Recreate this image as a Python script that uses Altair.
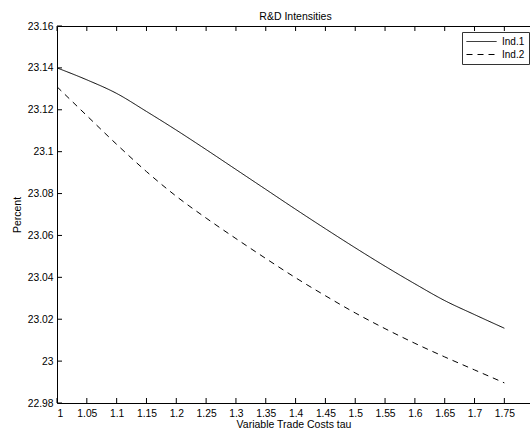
import altair as alt
import pandas as pd

# ---- data ----
tau = [1.00, 1.05, 1.10, 1.15, 1.20, 1.25, 1.30, 1.35, 1.40, 1.45, 1.50, 1.55, 1.60, 1.65, 1.70, 1.75]
ind1 = [23.1400, 23.1343, 23.1278, 23.1192, 23.1103, 23.1010, 23.0915, 23.0820,
        23.0725, 23.0632, 23.0541, 23.0453, 23.0369, 23.0289, 23.0222, 23.0157]
ind2 = [23.1310, 23.1172, 23.1035, 23.0905, 23.0787, 23.0683, 23.0585, 23.0490,
        23.0398, 23.0312, 23.0230, 23.0155, 23.0085, 23.0020, 22.9958, 22.9896]
series_names = ["Ind.1", "Ind.2"]
x_ticks = [1.0, 1.05, 1.1, 1.15, 1.2, 1.25, 1.3, 1.35, 1.4, 1.45, 1.5, 1.55, 1.6, 1.65, 1.7, 1.75]
y_ticks = [22.98, 23.0, 23.02, 23.04, 23.06, 23.08, 23.1, 23.12, 23.14, 23.16]

rows = []
for t, a, b in zip(tau, ind1, ind2):
    rows.append({"tau": t, "value": a, "series": series_names[0]})
    rows.append({"tau": t, "value": b, "series": series_names[1]})
df = pd.DataFrame(rows)

FONT = "Liberation Sans"
W, H = 473, 377
xs = alt.Scale(domain=[1.0, 1.793], nice=False, zero=False)
ys = alt.Scale(domain=[22.98, 23.16], nice=False, zero=False)

x_axis = alt.Axis(values=x_ticks, format="~g", title="Variable Trade Costs tau",
                  labelPadding=5, titlePadding=1)
y_axis = alt.Axis(values=y_ticks, format="~g", title="Percent",
                  labelPadding=4, titlePadding=5)

lines = alt.Chart(df).mark_line(color="black", strokeWidth=1, clip=True,
                                interpolate="monotone").encode(
    x=alt.X("tau:Q", scale=xs, axis=x_axis),
    y=alt.Y("value:Q", scale=ys, axis=y_axis),
    strokeDash=alt.StrokeDash(
        "series:N",
        scale=alt.Scale(domain=series_names, range=[[1, 0], [6, 5]]),
        legend=alt.Legend(
            title=None, orient="none", legendX=405, legendY=6,
            symbolType="M-1,0H5", symbolSize=100, symbolStrokeWidth=1,
            symbolStrokeColor="black", labelFontSize=10, labelFont=FONT,
            labelColor="black", labelOffset=25, strokeColor="#333333",
            fillColor="white", padding=4, rowPadding=2, cornerRadius=0,
        ),
    ),
    order=alt.Order("tau:Q"),
)

xt = pd.DataFrame({"t": x_ticks})
yt = pd.DataFrame({"t": y_ticks})

bottom_ticks = alt.Chart(xt).mark_rule(color="black", strokeWidth=1).encode(
    x=alt.X("t:Q", scale=xs, axis=x_axis), y=alt.value(H), y2=alt.value(H - 5))
top_ticks = alt.Chart(xt).mark_rule(color="black", strokeWidth=1).encode(
    x=alt.X("t:Q", scale=xs, axis=x_axis), y=alt.value(0), y2=alt.value(5))
left_ticks = alt.Chart(yt).mark_rule(color="black", strokeWidth=1).encode(
    y=alt.Y("t:Q", scale=ys, axis=y_axis), x=alt.value(0), x2=alt.value(5))

chart = alt.layer(lines, bottom_ticks, top_ticks, left_ticks).properties(
    width=W, height=H, background="white",
    title=alt.TitleParams("R&D Intensities", fontSize=10.5, font=FONT, fontWeight="normal",
                          anchor="middle", baseline="bottom", offset=-11, dx=2, color="black"),
    autosize=alt.AutoSizeParams(type="none"),
    padding={"left": 57, "top": 26, "right": 0, "bottom": 31},
).configure_view(
    stroke="black", strokeWidth=1
).configure_axis(
    domain=False, ticks=False, grid=False,
    labelFont=FONT, labelFontSize=10.3, labelColor="black",
    titleFont=FONT, titleFontSize=10.5, titleFontWeight="normal", titleColor="black",
)

chart.save("out.html", embed_options={"renderer": "svg", "actions": False})
